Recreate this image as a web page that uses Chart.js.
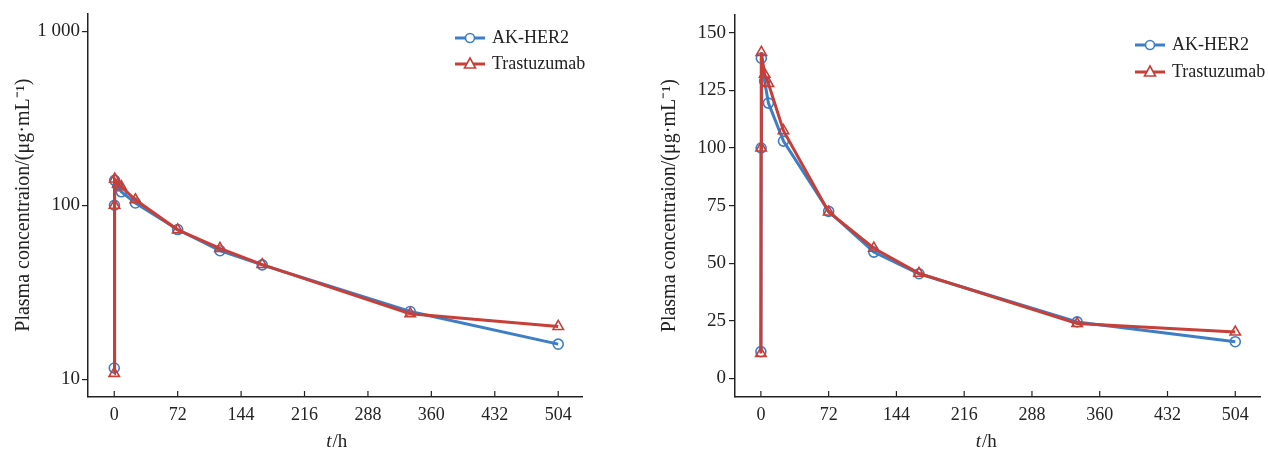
<!DOCTYPE html>
<html>
<head>
<meta charset="utf-8">
<script src="https://cdn.jsdelivr.net/npm/chart.js@4.4.0/dist/chart.umd.min.js"></script>
<style>
  body { margin: 0; background: #fff; }
  .box { position: absolute; top: 0; width: 634px; height: 454px; }
</style>
</head>
<body>
<div class="box" style="left:0"><canvas id="logChart"></canvas></div>
<div class="box" style="left:634px"><canvas id="linChart"></canvas></div>
<script>
// Sampling times (h)
var times = [0, 0.25, 0.5, 4, 8, 24, 72, 120, 168, 336, 504];

// Plasma concentration (ug/mL)
var akHer2 = [11.6, 100, 139, 129, 119.5, 103, 72.5, 54.8, 45.4, 24.5, 15.9];
var trastuzumab = [10.8, 100, 141.5, 132, 128, 107.5, 72.2, 56.5, 45.6, 23.8, 20.1];

// Tick labels
var xTicks = [0, 72, 144, 216, 288, 360, 432, 504];
var logTicks = [10, 100, 1000];
var linTicks = [0, 25, 50, 75, 100, 125, 150];

var seriesNames = ['AK-HER2', 'Trastuzumab'];
var blue = '#3d7ec6';
var red = '#c63f38';
var ink = '#222';
var serif = '"Liberation Serif", "Times New Roman", serif';

function pairs(vals) {
  return times.map(function (t, i) { return { x: t, y: vals[i] }; });
}

// x ticks point inward, x title has italic t, legend shows line + marker
var extras = {
  id: 'extras',
  afterDraw: function (chart) {
    var ctx = chart.ctx, xs = chart.scales.x, o = chart.options.plugins.extras;
    ctx.save();
    ctx.strokeStyle = ink;
    ctx.lineWidth = 1.2;
    xs.ticks.forEach(function (t) {
      var px = xs.getPixelForValue(t.value);
      ctx.beginPath();
      ctx.moveTo(px, xs.top);
      ctx.lineTo(px, xs.top - 6);
      ctx.stroke();
    });

    // axis title "t/h"
    ctx.fillStyle = ink;
    ctx.textBaseline = 'middle';
    ctx.font = 'italic 19px ' + serif;
    var w1 = ctx.measureText('t').width;
    ctx.font = '19px ' + serif;
    var w2 = ctx.measureText('/h').width;
    var cx = xs.getPixelForValue(o.titleAt) - (w1 + w2) / 2;
    ctx.font = 'italic 19px ' + serif;
    ctx.textAlign = 'left';
    ctx.fillText('t', cx, o.titleY);
    ctx.font = '19px ' + serif;
    ctx.fillText('/h', cx + w1 + 1, o.titleY);

    // legend
    chart.data.datasets.forEach(function (ds, i) {
      var y = o.legendY + i * o.legendGap;
      var x0 = o.legendX, x1 = o.legendX + 30, mx = o.legendX + 15;
      ctx.strokeStyle = ds.borderColor;
      ctx.lineWidth = 3;
      ctx.beginPath();
      ctx.moveTo(x0, y);
      ctx.lineTo(x1, y);
      ctx.stroke();
      ctx.lineWidth = 1.6;
      ctx.fillStyle = '#fff';
      ctx.beginPath();
      if (ds.pointStyle === 'circle') {
        ctx.arc(mx, y, 4.5, 0, Math.PI * 2);
      } else {
        ctx.moveTo(mx, y - 6);
        ctx.lineTo(mx + 5.5, y + 4);
        ctx.lineTo(mx - 5.5, y + 4);
        ctx.closePath();
      }
      ctx.fill();
      ctx.stroke();
      ctx.fillStyle = ink;
      ctx.font = '18px ' + serif;
      ctx.textAlign = 'left';
      ctx.fillText(ds.label, x1 + 7, y);
    });
    ctx.restore();
  }
};

function makeDatasets() {
  return [
    {
      label: seriesNames[0], data: pairs(akHer2), borderColor: blue,
      backgroundColor: 'rgba(255,255,255,0)', borderWidth: 3,
      pointStyle: 'circle', pointRadius: 5, pointBorderWidth: 1.6,
      pointBorderColor: blue, order: 1
    },
    {
      label: seriesNames[1], data: pairs(trastuzumab), borderColor: red,
      backgroundColor: 'rgba(255,255,255,0)', borderWidth: 3,
      pointStyle: 'triangle', pointRadius: 6, pointBorderWidth: 1.6,
      pointBorderColor: red, order: 0
    }
  ];
}

function xScale(minX, maxX) {
  return {
    type: 'linear', min: minX, max: maxX,
    afterBuildTicks: function (s) { s.ticks = xTicks.map(function (v) { return { value: v }; }); },
    afterFit: function (s) { s.height = 57; },
    grid: { drawOnChartArea: false, drawTicks: false },
    border: { color: ink, width: 1.5 },
    ticks: { color: ink, padding: 7, font: { family: serif, size: 18 } }
  };
}

function yTitle(pad) {
  return {
    display: true, text: 'Plasma concentraion/(μg·mL⁻¹)', color: ink,
    padding: { top: pad, bottom: 0 }, font: { family: serif, size: 20 }
  };
}

new Chart(document.getElementById('logChart'), {
  type: 'line',
  data: { datasets: makeDatasets() },
  plugins: [extras],
  options: {
    responsive: true, maintainAspectRatio: false, animation: false,
    layout: { padding: { top: 13, right: 52, bottom: 0, left: 0 } },
    plugins: {
      legend: { display: false }, tooltip: { enabled: false },
      extras: { titleAt: 252, titleY: 442, legendX: 455, legendY: 38, legendGap: 26 }
    },
    scales: {
      x: xScale(-29.8, 531),
      y: {
        type: 'logarithmic', min: 7.9, max: 1267,
        afterBuildTicks: function (s) { s.ticks = logTicks.map(function (v) { return { value: v }; }); },
        afterFit: function (s) { s.width = 88; },
        grid: { drawOnChartArea: false, drawTicks: true, tickLength: 6, color: ink, lineWidth: 1.2 },
        border: { color: ink, width: 1.5 },
        ticks: {
          color: ink, padding: 2, font: { family: serif, size: 19 },
          callback: function (v) { return v >= 1000 ? '1 000' : String(v); }
        },
        title: yTitle(12)
      }
    }
  }
});

new Chart(document.getElementById('linChart'), {
  type: 'line',
  data: { datasets: makeDatasets() },
  plugins: [extras],
  options: {
    responsive: true, maintainAspectRatio: false, animation: false,
    layout: { padding: { top: 13, right: 6, bottom: 0, left: 0 } },
    plugins: {
      legend: { display: false }, tooltip: { enabled: false },
      extras: { titleAt: 239, titleY: 442, legendX: 501, legendY: 45, legendGap: 27 }
    },
    scales: {
      x: xScale(-27.5, 530.7),
      y: {
        type: 'linear', min: -8.1, max: 158,
        afterBuildTicks: function (s) { s.ticks = linTicks.map(function (v) { return { value: v }; }); },
        afterFit: function (s) { s.width = 101; },
        grid: { drawOnChartArea: false, drawTicks: true, tickLength: 6, color: ink, lineWidth: 1.2 },
        border: { color: ink, width: 1.5 },
        ticks: { color: ink, padding: 3, font: { family: serif, size: 19 } },
        title: yTitle(24)
      }
    }
  }
});
</script>
</body>
</html>
